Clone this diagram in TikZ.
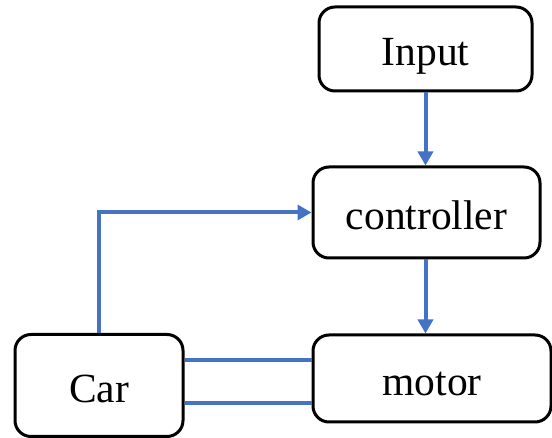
\documentclass[tikz,border=0pt]{standalone}
\usepackage{fontspec}
\setmainfont{Liberation Serif}
\usetikzlibrary{arrows.meta}
\definecolor{linkblue}{HTML}{4472C4}
\tikzset{
  block/.style={draw=black, line width=3pt, rounded corners=16pt, inner sep=0pt,
    text height=34pt, text depth=0pt,
    font=\fontsize{41.5}{48}\selectfont},
  link/.style={draw=linkblue, line width=4pt},
  flow/.style={link, -{Triangle[width=15pt,length=14pt]}}
}
\begin{document}
\begin{tikzpicture}[x=1pt,y=-1pt]
  \useasboundingbox (0,0) rectangle (552,438);
  % blocks
  \node[block, minimum width=213pt, minimum height=84pt] (in)    at (425.5,49)  {Input};
  \node[block, minimum width=227pt, minimum height=91pt] (ctrl)  at (426.5,212.5) {controller};
  \node[block, minimum width=238pt, minimum height=87pt] (motor) at (432,378.5) {motor};
  \node[block, minimum width=168pt, minimum height=102pt] (car)  at (99,385.5) {Car};
  % signal flow
  \draw[flow] (in.south) -- (in.south |- ctrl.north);
  \draw[flow] (in.south |- ctrl.south) -- (in.south |- motor.north);
  \draw[flow] (car.north) |- (ctrl.west);
  % mechanical coupling between car and motor
  \draw[link] (car.east |- 0,360) -- (motor.west |- 0,360);
  \draw[link] (car.east |- 0,403) -- (motor.west |- 0,403);
\end{tikzpicture}
\end{document}
